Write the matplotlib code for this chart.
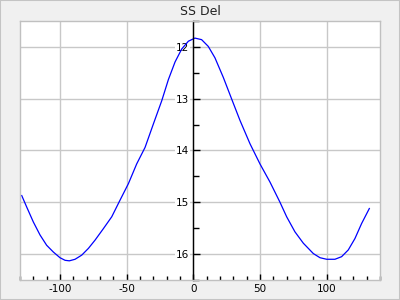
import matplotlib
matplotlib.use("Agg")
import matplotlib.pyplot as plt
from matplotlib.ticker import MultipleLocator
from matplotlib.patches import Rectangle

phase = [-128.7, -125, -120, -115, -110, -105, -100, -96.2, -93, -88.7, -83.7,
         -78.7, -73.7, -67.5, -61.2, -55, -48.7, -42.5, -36.2, -30, -23.7,
         -18.7, -13.7, -8.7, -3.7, 1.2, 6.2, 11.2, 16.2, 22.5, 28.8, 35, 42.5,
         50, 57.5, 65, 70, 76.2, 82.5, 90, 95, 100, 106.2, 111.2, 116.2, 121.2,
         126.2, 132]
mag = [14.87, 15.09, 15.38, 15.63, 15.83, 15.96, 16.07, 16.12, 16.13, 16.10, 16.02,
       15.89, 15.73, 15.51, 15.28, 14.96, 14.64, 14.26, 13.94, 13.49, 13.04,
       12.63, 12.29, 12.04, 11.89, 11.83, 11.86, 11.99, 12.21, 12.59, 13.01, 13.42, 13.87,
       14.26, 14.61, 15.00, 15.28, 15.57, 15.79, 15.99, 16.07, 16.10, 16.10, 16.05, 15.92, 15.70,
       15.41, 15.12]
title = "SS Del"

plt.rcParams['axes.unicode_minus'] = False
plt.rcParams['font.family'] = 'DejaVu Sans'

fig = plt.figure(figsize=(4, 3), dpi=100, facecolor='#f0f0f0')
fig.patches.append(Rectangle((0, 0), 1, 1, transform=fig.transFigure,
                             facecolor='none', edgecolor='#c4c4c4', lw=1.5))
ax = fig.add_axes([0.05, 0.0667, 0.9, 0.8633])
ax.set_facecolor('white')
ax.plot(phase, mag, color='#0000ff', lw=0.9)
ax.set_xlim(-130, 140)
ax.set_ylim(16.5, 11.5)

ax.xaxis.set_major_locator(MultipleLocator(50))
ax.xaxis.set_minor_locator(MultipleLocator(10))
ax.yaxis.set_major_locator(MultipleLocator(1))
ax.yaxis.set_minor_locator(MultipleLocator(0.5))
ax.grid(True, which='major', color='#c8c8c8', lw=1)

for s in ['top', 'right', 'bottom']:
    ax.spines[s].set_color('#c0c0c0')
    ax.spines[s].set_linewidth(1)
ax.spines['left'].set_position(('data', 0))
ax.spines['left'].set_color('black')
ax.spines['left'].set_linewidth(1)
ax.plot([0, 0], [0, 1], transform=ax.transAxes, color='#c0c0c0', lw=1, clip_on=False)

ax.tick_params(axis='x', which='major', direction='in', length=4, width=1,
               labelsize=7.5, pad=3, color='black')
ax.tick_params(axis='x', which='minor', direction='in', length=3, width=1, color='black')
ax.tick_params(axis='y', which='major', direction='in', length=5, width=1,
               labelsize=7.5, pad=3, color='black')
ax.tick_params(axis='y', which='minor', direction='in', length=4, width=1, color='black')
for lab in ax.get_yticklabels():
    lab.set_bbox(dict(facecolor='white', edgecolor='none', pad=0.5))

ax.set_title(title, fontsize=9, pad=4, color='#222222')
fig.savefig('out.png', dpi=100, facecolor=fig.get_facecolor())
